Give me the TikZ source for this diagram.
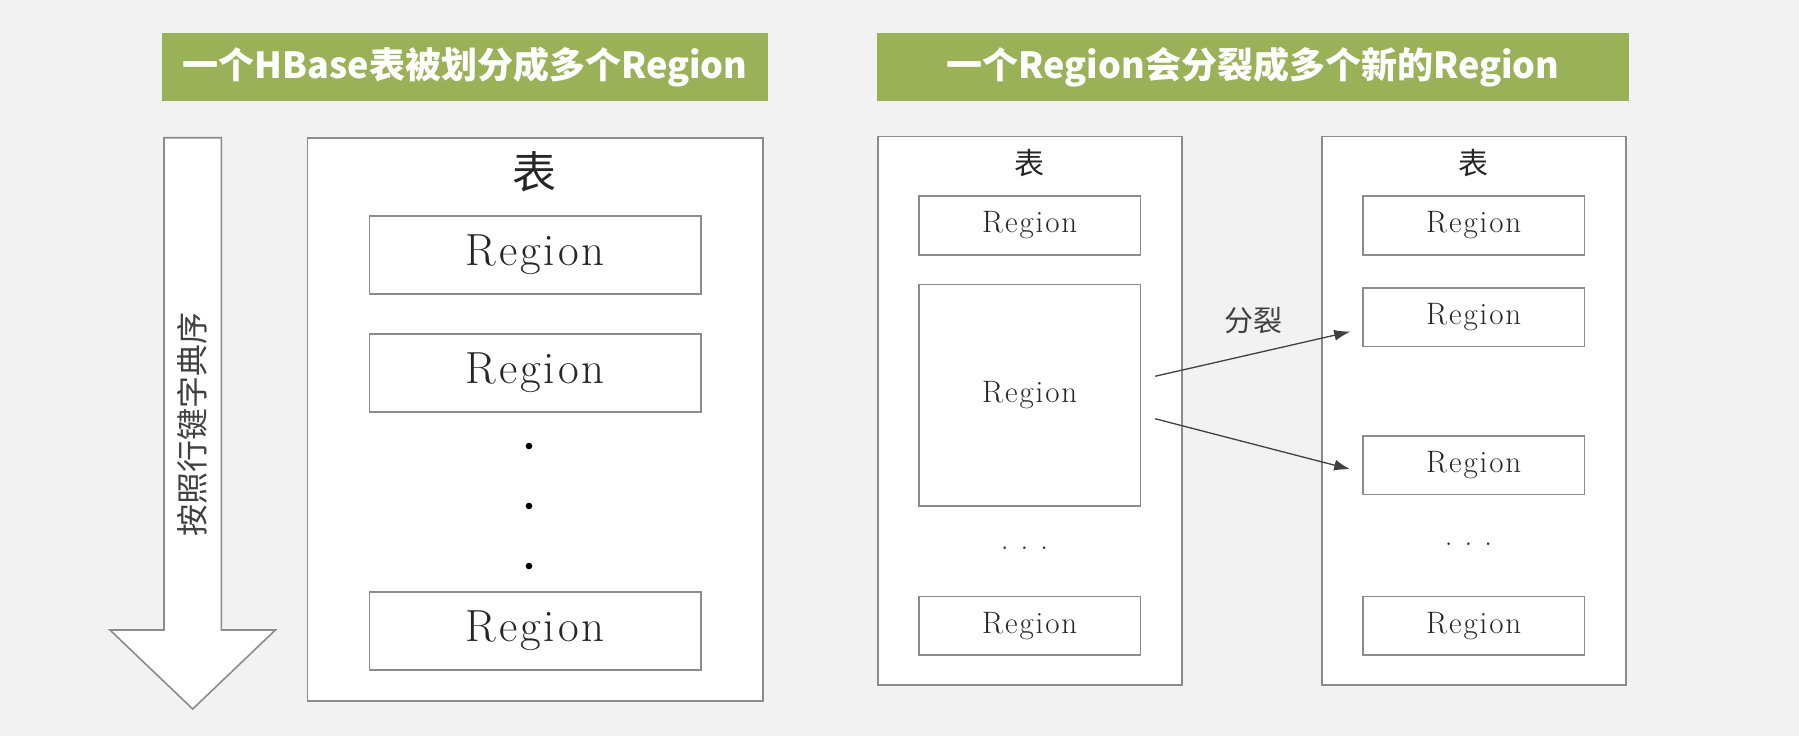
\documentclass[tikz,border=0pt]{standalone}
\usepackage{fontspec}
\newfontfamily\cjk{Noto Sans CJK SC}
\newfontfamily\regbig{Latin Modern Roman}[LetterSpace=6.5]
\newfontfamily\regsm{Latin Modern Roman}[LetterSpace=6]
\usetikzlibrary{arrows.meta}
\definecolor{bg}{HTML}{F2F2F2}
\definecolor{bannerc}{HTML}{9BB158}
\definecolor{edge}{HTML}{8C8C8C}
\definecolor{ink}{HTML}{262626}
\definecolor{inkb}{HTML}{404040}
\begin{document}
\begin{tikzpicture}[x=1pt,y=-1pt,
  box/.style={draw=edge, fill=white, line width=1.6pt, inner sep=0pt},
  banner/.style={fill=bannerc, text=white, inner sep=0pt, minimum height=68pt,
     font=\cjk\bfseries\fontsize{36}{40}\selectfont},
  bigreg/.style={box, minimum width=331.6pt, minimum height=78pt, text=ink,
     font=\regbig\fontsize{45}{50}\selectfont},
  smreg/.style={box, minimum width=221.4pt, minimum height=58.5pt, text=ink,
     font=\regsm\fontsize{31}{36}\selectfont},
  tbl/.style={box},
  bigtitle/.style={text=ink, inner sep=0pt, font=\cjk\fontsize{44}{48}\selectfont},
  smtitle/.style={text=ink, inner sep=0pt, font=\cjk\fontsize{30}{34}\selectfont},
  ell/.style={text=ink, inner sep=0pt, font=\fontsize{31}{36}\selectfont},
  conn/.style={draw=inkb, line width=1.3pt, -{Latex[length=16pt,width=11pt]}},
]
\useasboundingbox (0,0) rectangle (1799,736);
\fill[bg] (0,0) rectangle (1799,736);

% banners
\node[banner, minimum width=606pt] (b1) at (465,67) {一个HBase表被划分成多个Region};
\node[banner, minimum width=752.5pt] (b2) at (1253,67) {一个Region会分裂成多个新的Region};

% down arrow
\filldraw[draw=edge, fill=white, line width=1.6pt, line join=miter]
  (164,137.7) -- (221.4,137.7) -- (221.4,630) -- (275.4,630) -- (192.7,709)
  -- (110,630) -- (164,630) -- cycle;
\node[rotate=90, text=inkb, inner sep=0pt, font=\cjk\fontsize{32}{36}\selectfont]
  (order) at (192.7,424) {按照行键字典序};

% left table
\node[tbl, minimum width=455.5pt, minimum height=563.3pt] (t1) at (535.2,419.4) {};
\node[bigtitle] (t1title) at (534.6,172) {表};
\node[bigreg] (a1) at (535.2,254.7) {Region};
\node[bigreg] (a2) at (535.2,372.9) {Region};
\node[bigreg] (a3) at (535.2,631) {Region};
\fill[black] (529,446) circle (3.3);
\fill[black] (529,506) circle (3.3);
\fill[black] (529,566) circle (3.3);

% middle table
\node[tbl, minimum width=304pt, minimum height=548.5pt] (t2) at (1029.7,410.75) {};
\node[smtitle] (t2title) at (1029,163) {表};
\node[smreg] (m1) at (1029.7,225.45) {Region};
\node[smreg, minimum height=221.5pt] (mbig) at (1029.7,395.25) {Region};
\node[ell] (m2dots) at (1024.5,548) {.\hspace{12pt}.\hspace{12pt}.};
\node[smreg] (m3) at (1029.7,625.85) {Region};

% right table
\node[tbl, minimum width=304pt, minimum height=548.5pt] (t3) at (1473.7,410.75) {};
\node[smtitle] (t3title) at (1473,163) {表};
\node[smreg] (r1) at (1473.7,225.45) {Region};
\node[smreg] (r2) at (1473.7,317.25) {Region};
\node[smreg] (r3) at (1473.7,465.25) {Region};
\node[ell] (r4dots) at (1468.5,544.5) {.\hspace{12pt}.\hspace{12pt}.};
\node[smreg] (r5) at (1473.7,625.85) {Region};

% split arrows
\draw[conn] ([xshift=14pt,yshift=19pt]mbig.east) -- ([xshift=-12pt,yshift=-14.4pt]r2.west);
\draw[conn] ([xshift=14pt,yshift=-23.5pt]mbig.east) -- ([xshift=-12pt,yshift=-4pt]r3.west);
\node[text=inkb, inner sep=0pt, font=\cjk\fontsize{29}{32}\selectfont] (split) at (1253,321) {分裂};
\end{tikzpicture}
\end{document}
